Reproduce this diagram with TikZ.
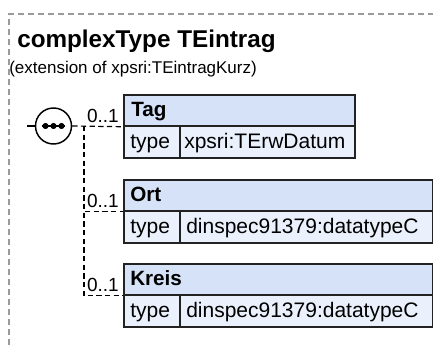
\documentclass[tikz,border=0pt]{standalone}
\usepackage{fontspec}
\setmainfont{Liberation Sans}
\definecolor{hdrfill}{HTML}{D5E2F7}
\definecolor{rowfill}{HTML}{EAF1FC}
\definecolor{boxline}{HTML}{222222}
\definecolor{outerline}{HTML}{9A9A9A}
\begin{document}
\begin{tikzpicture}[x=0.75pt,y=-0.75pt,
  outer/.style={draw=outerline, line width=0.9pt, dash pattern=on 4.5pt off 3pt},
  hdr/.style={draw=boxline, fill=hdrfill, line width=1.3pt, rectangle, inner sep=0pt, anchor=north west, minimum height=23.25pt},
  rowcell/.style={draw=boxline, fill=rowfill, line width=1.3pt, rectangle, inner sep=0pt, anchor=north west, minimum height=24pt},
  conn/.style={draw=black, line width=0.9pt, dash pattern=on 4pt off 2.5pt},
  txt/.style={inner sep=0pt, anchor=base west, font=\fontsize{15.75pt}{18pt}\selectfont},
  btxt/.style={inner sep=0pt, anchor=base west, font=\fontsize{15.5pt}{18pt}\selectfont\bfseries},
  lbl/.style={inner sep=0pt, anchor=base east, font=\fontsize{14.25pt}{16pt}\selectfont}
]
\useasboundingbox (0,0) rectangle (433,345);
\draw[outer] (9,345) -- (9,14) -- (433,14);
\node[inner sep=0pt, anchor=base west, font=\fontsize{18.2pt}{21pt}\selectfont\bfseries] (title) at (17,48) {complexType TEintrag};
\node[inner sep=0pt, anchor=base west, font=\fontsize{12.75pt}{15pt}\selectfont] (sub) at (9,74) {(extension of xpsri:TEintragKurz)};

% sequence compositor
\node[circle, draw=black, line width=1.1pt, fill=white, minimum size=27pt, inner sep=0pt] (seq) at (53.5,126) {};
\coordinate (stub) at (27,126);
\draw[line width=1.1pt] (stub) -- (seq.west);
\draw[line width=1.1pt] (42,126) -- (65,126);
\foreach \xx in {45.5,53.5,61.5} \fill (\xx,126) circle[radius=2.3pt];

% Tag
\node[hdr, minimum width=173.25pt] (tagh) at (123,94) {};
\node[rowcell, minimum width=42pt] (tagk) at (123,125) {};
\node[rowcell, minimum width=131.25pt] (tagv) at (179,125) {};
\node[btxt] (tagn) at (131,117) {Tag};
\node[txt] (tagkt) at (130,149) {type};
\node[txt] (tagvt) at (184,149) {xpsri:TErwDatum};

% Ort
\node[hdr, minimum width=231.75pt] (orth) at (123,179) {};
\node[rowcell, minimum width=42pt] (ortk) at (123,210) {};
\node[rowcell, minimum width=189.75pt] (ortv) at (179,210) {};
\node[btxt] (ortn) at (130,202) {Ort};
\node[txt] (ortkt) at (130,234) {type};
\node[txt] (ortvt) at (186,234) {dinspec91379:datatypeC};

% Kreis
\node[hdr, minimum width=231.75pt] (kreh) at (123,263) {};
\node[rowcell, minimum width=42pt] (krek) at (123,294) {};
\node[rowcell, minimum width=189.75pt] (krev) at (179,294) {};
\node[btxt] (kren) at (130,286) {Kreis};
\node[txt] (krekt) at (130,318) {type};
\node[txt] (krevt) at (186,318) {dinspec91379:datatypeC};

% connectors
\coordinate (j) at (84,126);
\draw[conn] (seq.east) -- (tagh.south west);
\draw[conn] (j) |- (orth.south west);
\draw[conn] (j) |- (kreh.south west);
\node[lbl] (tagm) at (119,123) {0..1};
\node[lbl] (ortm) at (119,208) {0..1};
\node[lbl] (krem) at (119,292) {0..1};
\end{tikzpicture}
\end{document}
